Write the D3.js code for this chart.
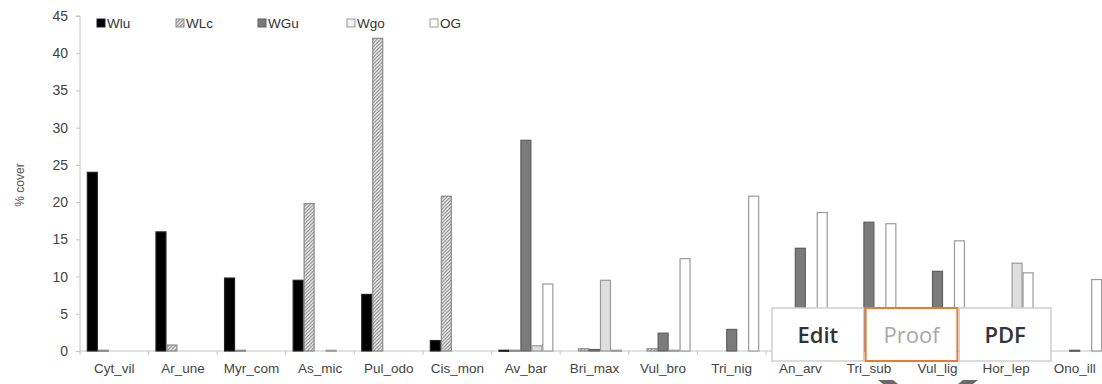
<!DOCTYPE html>
<html><head><meta charset="utf-8">
<script src="https://cdn.jsdelivr.net/npm/d3@7"></script>
<style>
html,body{margin:0;padding:0;background:#fff;}
svg{display:block;}
</style></head>
<body>
<svg id="c" width="1102" height="384"></svg>
<script>
const categories = ["Cyt_vil","Ar_une","Myr_com","As_mic","Pul_odo","Cis_mon","Av_bar","Bri_max","Vul_bro","Tri_nig","An_arv","Tri_sub","Vul_lig","Hor_lep","Ono_ill"];
const seriesNames = ["Wlu","WLc","WGu","Wgo","OG"];
const WLu = [24, 16, 9.8, 9.5, 7.6, 1.4, 0.1, 0, 0, 0, 0, 0, 0, 0, 0];
const WLc = [0.1, 0.8, 0.1, 19.8, 42, 20.8, 0.1, 0.3, 0.3, 0, 0, 0, 0, 0, 0];
const WGu = [0, 0, 0, 0, 0, 0, 28.3, 0.2, 2.4, 2.9, 13.8, 17.3, 10.7, 0, 0.1];
const Wgo = [0, 0, 0, 0.1, 0, 0, 0.7, 9.5, 0.1, 0, 0, 0, 0, 11.8, 0];
const OG  = [0, 0, 0, 0, 0, 0, 9, 0.1, 12.4, 20.8, 18.6, 17.1, 14.8, 10.5, 9.6];
const yTicks = [0,5,10,15,20,25,30,35,40,45];
const buttons = ["Edit","Proof","PDF"];

const series = [WLu, WLc, WGu, Wgo, OG];
const fills = ["#000", "url(#hatch)", "#7b7b7b", "#dedede", "#fff"];
const legFills = ["#000", "url(#hatch)", "#7b7b7b", "#f2f2f2", "#fff"];
const strokes = ["#222", "#8a8a8a", "#5e5e5e", "#9a9a9a", "#9a9a9a"];

const svg = d3.select("#c");
const defs = svg.append("defs");
const pat = defs.append("pattern").attr("id","hatch").attr("patternUnits","userSpaceOnUse")
  .attr("width",3.5).attr("height",3.5);
pat.append("rect").attr("width",3.5).attr("height",3.5).attr("fill","#f2f2f2");
pat.append("path").attr("d","M-1,1 l2,-2 M0,3.5 l3.5,-3.5 M2.5,4.5 l2,-2")
  .attr("stroke","#777").attr("stroke-width",1);

const font = "'Liberation Sans', Arial, sans-serif";
const x0 = d3.scaleBand().domain(categories).range([80, 1109]).paddingInner(0.2).paddingOuter(0.1);
const x1 = d3.scaleBand().domain(seriesNames).range([0, x0.bandwidth()]);
const y = d3.scaleLinear().domain([0,45]).range([351,16]);

// y axis
const yAxis = svg.append("g").attr("transform","translate(80,0)")
  .call(d3.axisLeft(y).tickValues(yTicks).tickSize(4).tickPadding(8));
yAxis.select(".domain").attr("stroke","#c4c4c4").attr("d","M-4,"+y(45)+"H0V"+y(0));
yAxis.selectAll(".tick line").attr("stroke","#c4c4c4");
yAxis.selectAll("text").attr("font-family",font).attr("font-size",14).attr("fill","#444");

// x axis
const xg = svg.append("g");
xg.append("line").attr("x1",80).attr("x2",1102).attr("y1",y(0)).attr("y2",y(0)).attr("stroke","#c4c4c4");
const bounds = categories.map(c => x0(c) - x0.step()*x0.paddingInner()/2);
xg.selectAll("line.tk").data(bounds).enter().append("line").attr("class","tk")
  .attr("x1",d=>d).attr("x2",d=>d).attr("y1",y(0)).attr("y2",y(0)+4).attr("stroke","#c4c4c4");
xg.selectAll("text").data(categories).enter().append("text")
  .attr("x",d=>x0(d)+x0.bandwidth()/2).attr("y",373)
  .attr("text-anchor","middle").attr("font-family",font).attr("font-size",13.5).attr("fill","#444")
  .text(d=>d);

// y label
svg.append("text").attr("transform","translate(24,185) rotate(-90)")
  .attr("text-anchor","middle").attr("font-family",font).attr("font-size",12).attr("fill","#555")
  .text("% cover");

// bars
const bars = [];
categories.forEach((c,ci)=>{
  series.forEach((s,si)=>{
    if (s[ci] > 0) bars.push({c, si, v:s[ci]});
  });
});
svg.append("g").selectAll("rect").data(bars).enter().append("rect")
  .attr("x",d=>x0(d.c)+x1(seriesNames[d.si])+0.5)
  .attr("y",d=>y(d.v))
  .attr("width",x1.bandwidth()-1)
  .attr("height",d=>Math.max(1, y(0)-y(d.v)))
  .attr("fill",d=>fills[d.si])
  .attr("stroke",d=>strokes[d.si])
  .attr("stroke-width",1.2);

// legend
const legX = [97, 176, 258, 347, 430];
const lg = svg.append("g");
seriesNames.forEach((n,i)=>{
  lg.append("rect").attr("x",legX[i]).attr("y",19).attr("width",8).attr("height",8)
    .attr("fill",legFills[i]).attr("stroke",strokes[i]).attr("stroke-width",1);
  lg.append("text").attr("x",legX[i]+10).attr("y",27.5).attr("font-family",font)
    .attr("font-size",13.5).attr("fill","#333").text(n);
});

// overlay buttons
const bx = d3.scaleBand().domain(buttons).range([772, 1051]).paddingInner(0.02);
const og = svg.append("g");
buttons.forEach(b=>{
  const sel = b === "Proof";
  og.append("rect").attr("x",bx(b)).attr("y",308).attr("width",bx.bandwidth()).attr("height",53)
    .attr("fill","#fff").attr("stroke", sel ? "#ec7a2c" : "#cfcfcf").attr("stroke-width", sel ? 2 : 1.5);
  og.append("text").attr("x",bx(b)+bx.bandwidth()/2).attr("y",343)
    .attr("text-anchor","middle").attr("font-family","'Open Sans', sans-serif")
    .attr("font-size",22).attr("font-weight", sel ? 400 : 600)
    .attr("fill", sel ? "#a8a8a8" : "#333").text(b);
});

// chevron fragments at bottom
svg.append("path").attr("d","M878,380 L893,380 L898,384 L883,384 Z M963,380 L978,380 L973,384 L958,384 Z")
  .attr("fill","#6a6a6a");
</script>
</body></html>
